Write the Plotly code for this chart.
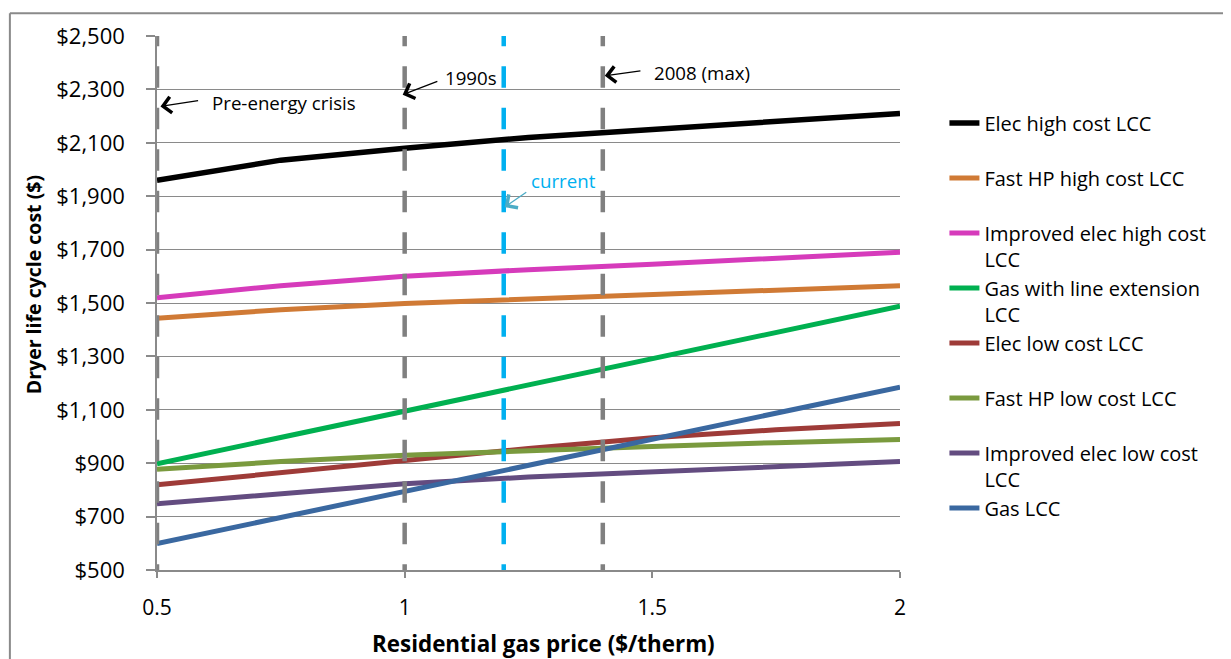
import plotly.graph_objects as go

# ---- data ----
gas_price = [0.5, 0.75, 1.0, 1.25, 1.5, 1.75, 2.0]

series_names = [
    "Elec high cost LCC",
    "Fast HP high cost LCC",
    "Improved elec high cost<br>LCC",
    "Gas with line extension<br>LCC",
    "Elec low cost LCC",
    "Fast HP low cost LCC",
    "Improved elec low cost<br>LCC",
    "Gas LCC",
]
elec_high = [1960, 2035, 2080, 2120, 2150, 2180, 2210]
fasthp_high = [1443, 1475, 1498, 1515, 1532, 1549, 1565]
improved_high = [1520, 1565, 1600, 1625, 1645, 1668, 1690]
gas_line_ext = [898, 996, 1095, 1193, 1292, 1390, 1488]
elec_low = [819, 865, 910, 955, 995, 1025, 1049]
fasthp_low = [877, 906, 930, 948, 963, 977, 989]
improved_low = [748, 785, 823, 848, 868, 888, 906]
gas_lcc = [599, 697, 794, 892, 990, 1087, 1185]

series_values = [elec_high, fasthp_high, improved_high, gas_line_ext,
                 elec_low, fasthp_low, improved_low, gas_lcc]
series_colors = ["#000000", "#D07A35", "#D63BBB", "#00B050",
                 "#9E3B38", "#7A9A3E", "#634C80", "#3A68A0"]

# reference price lines
ref_prices = [0.5, 1.0, 1.2, 1.4]
ref_colors = ["#808080", "#808080", "#00B0F0", "#808080"]
ref_labels = ["Pre-energy crisis", "1990s", "current", "2008 (max)"]

y_ticks = [500, 700, 900, 1100, 1300, 1500, 1700, 1900, 2100, 2300, 2500]
y_ticktext = ["$500", "$700", "$900", "$1,100", "$1,300", "$1,500", "$1,700",
              "$1,900", "$2,100", "$2,300", "$2,500"]
x_ticks = [0.5, 1, 1.5, 2]
x_ticktext = ["0.5", "1", "1.5", "2"]

FONT = "Open Sans"
GRAY = "#8a8a8a"

fig = go.Figure()

for name, vals, col in zip(series_names, series_values, series_colors):
    if "<br>" not in name:
        name = name + "<br>\u00a0"
    fig.add_trace(go.Scatter(
        x=gas_price, y=vals, mode="lines", name=name,
        line=dict(color=col, width=5.5 if col == "#000000" else 5),
    ))

for xp, col in zip(ref_prices, ref_colors):
    fig.add_trace(go.Scatter(
        x=[xp, xp], y=[2542, 500], mode="lines", showlegend=False,
        line=dict(color=col, width=4.5, dash="21.5px,20px"),
        hoverinfo="skip",
    ))

# ---- annotations (labels and arrows) ----
ann = []
# arrow head (x, y), arrow tail (ax, ay), arrow colour, label, label position
arrow_specs = [
    (0.507, 2236, 0.586, 2259, "#000000", ref_labels[0], 0.607, 2250),
    (0.996, 2280, 1.069, 2332, "#000000", ref_labels[1], 1.077, 2344),
    (1.202, 1859, 1.2485, 1919, "#4BACC6", ref_labels[2], 1.252, 1960),
    (1.404, 2351, 1.479, 2370, "#000000", ref_labels[3], 1.499, 2362),
]
for hx, hy, tx, ty, acol, lab, lx, ly in arrow_specs:
    ann.append(dict(x=hx, y=hy, ax=tx, ay=ty, axref="x", ayref="y",
                    xref="x", yref="y", text="", showarrow=True,
                    arrowhead=4, arrowsize=2.4, arrowwidth=1.3,
                    arrowcolor=acol, standoff=0, startstandoff=0))
    ann.append(dict(x=lx, y=ly, xref="x", yref="y", text=lab, showarrow=False,
                    xanchor="left", yanchor="middle",
                    font=dict(family=FONT, size=18.7,
                              color="#00B0F0" if lab == "current" else "#000000")))

# axis titles
ann.append(dict(x=0.52, y=-0.137, xref="paper", yref="paper",
                text="<b>Residential gas price ($/therm)</b>", showarrow=False,
                xanchor="center", yanchor="middle",
                font=dict(family=FONT, size=22.4, color="#000000")))
ann.append(dict(x=-0.167, y=0.535, xref="paper", yref="paper",
                text="<b>Dryer life cycle cost ($)</b>", showarrow=False,
                textangle=-90, xanchor="center", yanchor="middle",
                font=dict(family=FONT, size=19.5, color="#000000")))

# outer chart border (top and left edges visible)
shapes = [
    dict(type="line", xref="paper", yref="paper", x0=-0.198, x1=-0.198,
         y0=-0.3, y1=1.0428, line=dict(color=GRAY, width=2)),
    dict(type="line", xref="paper", yref="paper", x0=-0.198, x1=1.6,
         y0=1.0428, y1=1.0428, line=dict(color=GRAY, width=2)),
]

fig.update_layout(
    width=1223, height=651,
    margin=dict(l=149, r=331, t=25, b=89, pad=0),
    paper_bgcolor="white", plot_bgcolor="white",
    font=dict(family=FONT, size=20, color="#000000"),
    showlegend=True,
    legend=dict(x=1.0598, y=0.8736, xanchor="left", yanchor="top",
                valign="top", font=dict(family=FONT, size=20),
                bgcolor="rgba(0,0,0,0)", itemwidth=30, tracegroupgap=0),
    annotations=ann,
    shapes=shapes,
    xaxis=dict(range=[0.5, 2], tickvals=x_ticks, ticktext=x_ticktext,
               showgrid=False, zeroline=False, showline=True,
               linecolor=GRAY, linewidth=1.5, ticks="outside", ticklen=6,
               tickwidth=1.5, tickcolor=GRAY, ticklabelstandoff=12,
               tickfont=dict(family=FONT, size=21)),
    yaxis=dict(range=[500, 2500], tickvals=y_ticks, ticktext=y_ticktext,
               showgrid=True, gridcolor=GRAY, gridwidth=1.3,
               zeroline=False, showline=True, linecolor=GRAY, linewidth=1.5,
               ticks="outside", ticklen=9, tickwidth=1.5, tickcolor=GRAY,
               ticklabelstandoff=17, tickfont=dict(family=FONT, size=22)),
)

fig.write_html("out.html")
